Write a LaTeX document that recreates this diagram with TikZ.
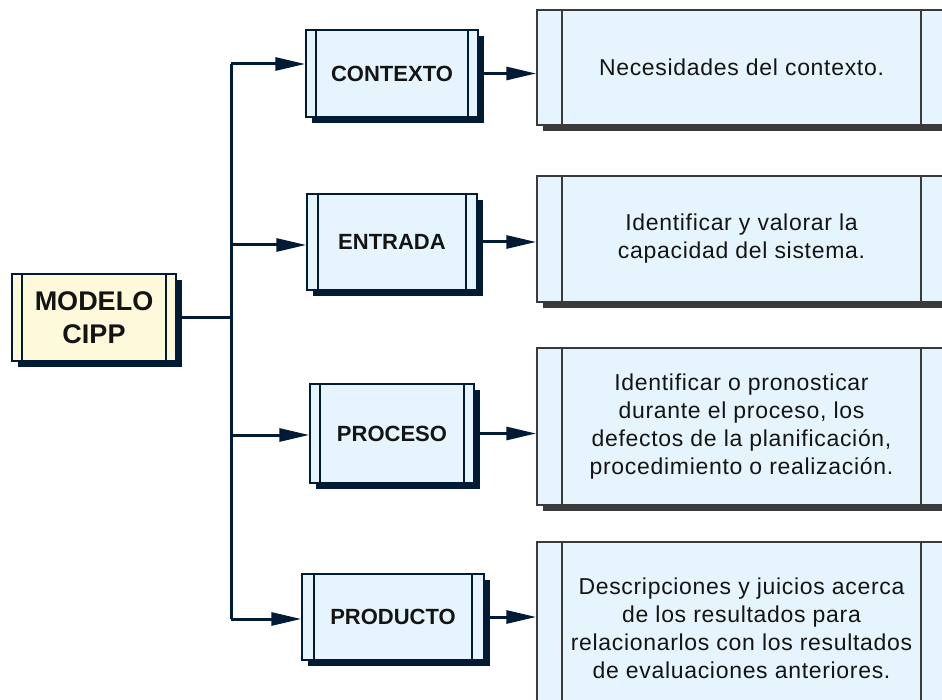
\documentclass[tikz,border=0pt]{standalone}
\usepackage{fontspec}
\setmainfont{Liberation Sans}
\newfontfamily\descfont[LetterSpace=3]{Liberation Sans}
\usepackage{tikz}
\usetikzlibrary{arrows.meta,shadows}
\definecolor{navy}{HTML}{021B35}
\definecolor{graybd}{HTML}{3A3A3A}
\definecolor{paleblue}{HTML}{E6F4FE}
\definecolor{paleyel}{HTML}{FFF9DC}
\definecolor{ink}{HTML}{141414}
\tikzset{
  trunk/.style={draw=navy, line width=3pt},
  conn/.style={trunk, -{Triangle[length=30pt,width=13pt]}},
  cbox/.style={draw=navy, line width=1.5pt, fill=paleblue, inner sep=0pt,
    general shadow={fill=navy, shadow xshift=6pt, shadow yshift=-6pt},
    font=\bfseries\fontsize{22}{26}\selectfont, text=ink,
    path picture={\draw[navy, line width=1.5pt]
      ([xshift=#1]path picture bounding box.south west) -- ([xshift=#1]path picture bounding box.north west)
      ([xshift=-#1]path picture bounding box.south east) -- ([xshift=-#1]path picture bounding box.north east);}},
  cbox/.default=10pt,
  mbox/.style={cbox, fill=paleyel, align=center, font=\bfseries\fontsize{27}{33}\selectfont},
  rbox/.style={draw=graybd, line width=1.5pt, fill=paleblue, inner sep=0pt,
    minimum width=409pt, align=center, text=ink,
    general shadow={fill=graybd, shadow xshift=6pt, shadow yshift=-6pt},
    font=\descfont\fontsize{23}{28}\selectfont,
    path picture={\draw[graybd, line width=1.5pt]
      ([xshift=25pt]path picture bounding box.south west) -- ([xshift=25pt]path picture bounding box.north west)
      ([xshift=-25pt]path picture bounding box.south east) -- ([xshift=-25pt]path picture bounding box.north east);}},
}
\begin{document}
\begin{tikzpicture}[x=1pt,y=-1pt]
  \useasboundingbox (0,0) rectangle (942,700);
  \clip (0,0) rectangle (942,700);
  % main box
  \node[mbox, minimum width=164pt, minimum height=87pt] (modelo) at (94,317.5) {MODELO\\CIPP};
  % stages
  \node[cbox, minimum width=172pt, minimum height=87pt] (contexto) at (392,73.5) {CONTEXTO};
  \node[cbox=11pt, minimum width=170pt, minimum height=96pt] (entrada) at (392,242) {ENTRADA};
  \node[cbox, minimum width=164pt, minimum height=99pt] (proceso) at (392,433.5) {PROCESO};
  \node[cbox=12pt, minimum width=182pt, minimum height=86pt] (producto) at (393,617) {PRODUCTO};
  % descriptions
  \node[rbox, minimum height=115pt] (rcon) at (741.5,67.5) {Necesidades del contexto.};
  \node[rbox, minimum height=126pt] (rent) at (741.5,239) {Identificar y valorar la\\capacidad del sistema.};
  \node[rbox, minimum height=157pt] (rpro) at (741.5,426.5) {Identificar o pronosticar\\durante el proceso, los\\defectos de la planificación,\\procedimiento o realización.};
  \node[rbox, minimum height=173pt] (rprod) at (741.5,628.5) {Descripciones y juicios acerca\\de los resultados para\\relacionarlos con los resultados\\de evaluaciones anteriores.};
  % connectors
  \coordinate (j1) at (231,64);
  \coordinate (j2) at (231,245);
  \coordinate (j3) at (231,435);
  \coordinate (j4) at (231,619);
  \draw[trunk] (modelo.east) -- (modelo.east -| j1);
  \draw[trunk] (j1) -- (j4);
  \foreach \J/\B in {j1/contexto, j2/entrada, j3/proceso, j4/producto}
    \draw[conn] (\J) -- (\J -| \B.west);
  \foreach \A/\B in {contexto/rcon, entrada/rent, proceso/rpro, producto/rprod}
    \draw[conn] (\A.east) -- (\A.east -| \B.west);
\end{tikzpicture}
\end{document}
